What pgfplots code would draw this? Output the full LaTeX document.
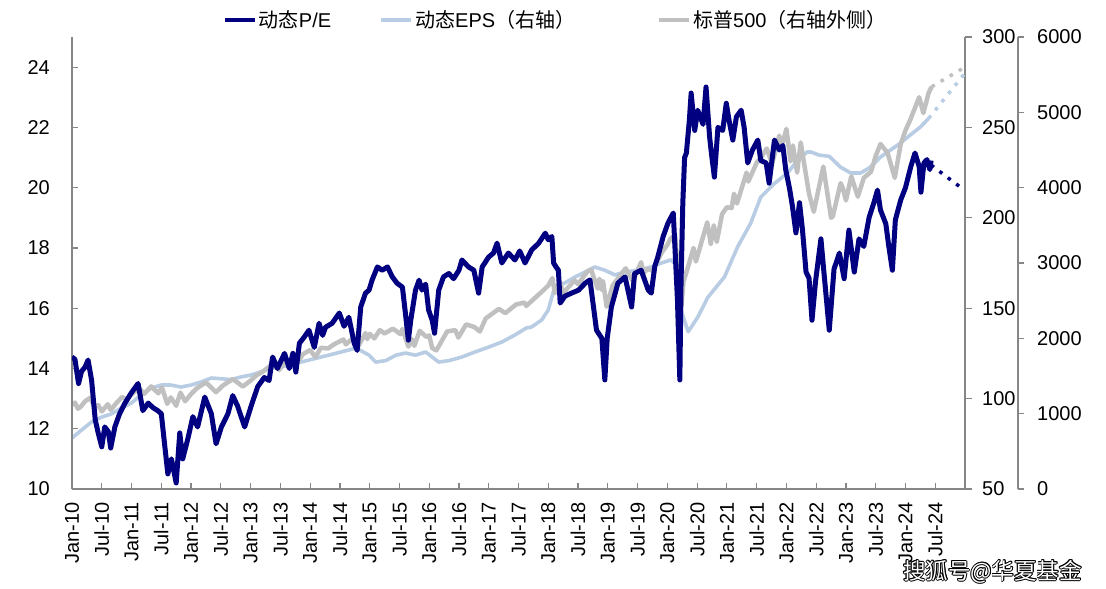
\documentclass[border=0pt]{standalone}
\usepackage{pgfplots}
\pgfplotsset{compat=1.18}
\usepackage{fontspec}
\setmainfont{Liberation Sans}
\newfontfamily\cjk{Noto Sans CJK SC}
\definecolor{pe}{RGB}{0,0,128}
\definecolor{eps}{RGB}{184,204,228}
\definecolor{spx}{RGB}{192,192,192}
\definecolor{axc}{RGB}{134,134,134}
\newcommand\tf{\fontsize{20bp}{24bp}\selectfont}
\pgfplotsset{
  base/.style={
    scale only axis, width=893bp, height=452bp,
    xmin=2010, xmax=2025,
    axis line style={axc, line width=1.2bp},
    tick style={axc, line width=1.2bp},
    major tick length=6bp,
    tick label style={font=\tf, black},
    /pgf/number format/assume math mode=true,
    /pgf/number format/1000 sep={},
    scaled y ticks=false,
    no markers,
  }
}
\begin{document}
\begin{tikzpicture}
\path[use as bounding box] (-72bp,-100bp) rectangle (1034bp,489bp);
% EPS axis (right)
\begin{axis}[base,
  ymin=50, ymax=300, ytick={50,100,150,200,250,300},
  axis x line=none, axis y line*=right, tick align=outside,
  major tick length=7bp,
  yticklabel style={anchor=west, inner xsep=10bp},
]
\addplot[eps, line width=3.6bp, line join=round] coordinates {
(2010.00,78.2)(2010.16,82.6)(2010.33,87.1)(2010.50,89.8)(2010.66,91.5)(2010.83,94.8)
(2011.00,97.6)(2011.16,102)(2011.33,105.8)(2011.50,107.5)(2011.66,107.5)(2011.83,106.4)
(2012.00,107.5)(2012.17,109.2)(2012.34,111.4)(2012.50,111)(2012.67,110.5)(2012.84,112)
(2013.00,113)(2013.17,114.7)(2013.34,116.9)(2013.55,117.8)(2013.78,119.7)(2013.98,121.3)
(2014.32,124.1)(2014.65,126.9)(2014.77,128)(2014.88,126)(2014.99,124)(2015.10,120.2)
(2015.27,121)(2015.44,124)(2015.60,125.2)(2015.77,124)(2015.94,125.8)(2016.05,123)
(2016.16,120.2)(2016.33,121)(2016.55,123)(2016.77,125.8)(2017.00,128.5)(2017.22,131.3)
(2017.44,135.2)(2017.63,139)(2017.72,139.6)(2017.89,143.5)(2018.00,149)(2018.06,156.2)
(2018.11,161.7)(2018.28,164)(2018.45,167.3)(2018.62,170)(2018.78,172.8)(2018.95,171)
(2019.12,168.4)(2019.28,170)(2019.51,171)(2019.73,172.8)(2019.90,175)(2020.06,176.7)
(2020.15,174)(2020.18,164)(2020.23,149)(2020.35,137)(2020.51,145)(2020.68,156)
(2020.96,167.3)(2021.18,183.9)(2021.40,197)(2021.57,211.5)(2021.80,219)(2022.02,224.8)
(2022.19,232)(2022.35,236.4)(2022.41,236.4)(2022.55,234.7)(2022.72,234)(2022.91,228)
(2023.08,224.8)(2023.25,224.8)(2023.41,228)(2023.58,233.6)(2023.75,237.5)(2023.92,241.4)
(2024.08,245.8)(2024.25,250.2)(2024.39,255)
};
\addplot[eps, line width=3.5bp, dash pattern=on 3.5bp off 7bp] coordinates {(2024.39,255)(2025.0,280)};
\end{axis}
% S&P 500 axis (outer right)
\begin{axis}[base,
  width=946bp, xmax=2025.8903,
  ymin=0, ymax=6000, ytick={0,1000,2000,3000,4000,5000,6000},
  axis x line=none, axis y line*=right, tick align=outside,
  yticklabel style={anchor=west, inner xsep=13bp},
  legend columns=3,
  legend style={at={(0.1596,1.0376)}, anchor=west, draw=none, fill=none,
    inner sep=0pt, outer sep=0pt, font=\tf,
    /tikz/every even column/.append style={column sep=0bp},
    nodes={inner xsep=2bp}},
  legend image code/.code={\draw[#1, line width=4bp] (0bp,0bp) -- (30bp,0bp);},
]
\addlegendimage{pe}
\addlegendentry{{\cjk 动态}P/E\makebox[46bp]{}}
\addlegendimage{eps}
\addlegendentry{{\cjk 动态}EPS{\cjk （右轴）}\makebox[80bp]{}}
\addplot[spx, line width=4.5bp, line join=round] coordinates {
(2010.00,1120)(2010.05,1146)(2010.10,1066)(2010.15,1094)(2010.22,1165)(2010.31,1212)(2010.38,1080)(2010.44,1115)(2010.50,1030)(2010.60,1125)(2010.65,1050)(2010.75,1145)(2010.84,1220)(2010.92,1190)
(2011.00,1258)(2011.13,1340)(2011.21,1262)(2011.33,1362)(2011.45,1270)(2011.51,1350)(2011.60,1130)(2011.66,1215)(2011.75,1105)(2011.82,1280)(2011.90,1165)
(2012.00,1260)(2012.10,1340)(2012.25,1415)(2012.42,1285)(2012.53,1370)(2012.70,1460)(2012.87,1360)
(2013.00,1440)(2013.10,1510)(2013.20,1555)(2013.38,1665)(2013.48,1580)(2013.59,1705)(2013.65,1635)(2013.72,1720)(2013.77,1660)(2013.88,1790)
(2014.00,1845)(2014.09,1750)(2014.18,1875)(2014.30,1865)(2014.40,1920)(2014.56,1985)(2014.60,1920)(2014.72,2005)(2014.79,1870)(2014.93,2070)(2014.96,1990)
(2015.00,2060)(2015.08,2000)(2015.17,2110)(2015.25,2065)(2015.39,2128)(2015.52,2055)(2015.55,2125)(2015.65,1890)(2015.71,1990)(2015.75,1900)(2015.84,2100)(2015.95,2020)
(2016.00,2040)(2016.05,1870)(2016.12,1840)(2016.30,2090)(2016.44,2110)(2016.49,2010)(2016.62,2185)(2016.76,2150)(2016.85,2090)(2016.95,2265)
(2017.17,2390)(2017.28,2335)(2017.46,2450)(2017.60,2475)(2017.63,2430)(2017.83,2575)(2017.92,2640)
(2018.00,2700)(2018.07,2800)(2018.11,2600)(2018.19,2760)(2018.25,2600)(2018.44,2770)(2018.50,2720)(2018.66,2890)(2018.72,2910)(2018.83,2660)(2018.86,2790)(2018.90,2640)(2018.92,2760)(2018.98,2420)
(2019.08,2700)(2019.30,2930)(2019.42,2760)(2019.56,3010)(2019.60,2860)(2019.66,2920)(2019.75,2900)(2019.91,3145)
(2020.00,3240)(2020.05,3320)(2020.13,3370)(2020.17,2980)(2020.22,2280)(2020.27,2750)(2020.33,2900)(2020.44,3200)(2020.48,3020)(2020.67,3540)(2020.73,3250)(2020.78,3500)(2020.83,3280)(2020.92,3650)
(2021.00,3740)(2021.08,3730)(2021.12,3920)(2021.17,3790)(2021.33,4200)(2021.36,4080)(2021.50,4330)(2021.58,4410)(2021.67,4520)(2021.76,4320)(2021.88,4690)(2021.92,4540)
(2022.00,4780)(2022.07,4350)(2022.11,4560)(2022.18,4200)(2022.24,4600)(2022.38,3920)(2022.46,3680)(2022.62,4280)(2022.75,3600)(2022.78,3620)(2022.91,4060)(2022.95,3990)
(2023.00,3830)(2023.09,4150)(2023.20,3880)(2023.30,4130)(2023.42,4210)(2023.50,4420)(2023.58,4580)(2023.70,4460)(2023.82,4130)(2023.92,4580)
(2024.00,4760)(2024.08,4900)(2024.23,5200)(2024.30,4990)(2024.39,5260)(2024.44,5340)
};
\addlegendentry{{\cjk 标普}500{\cjk （右轴外侧）}}
\addplot[spx, line width=3.5bp, dash pattern=on 3.5bp off 7bp, forget plot] coordinates {(2024.44,5340)(2025.0,5600)};
\end{axis}
% P/E axis (left)
\begin{axis}[base,
  ymin=10, ymax=25, ytick={10,12,14,16,18,20,22,24},
  axis lines*=left, tick align=inside,
  xtick={2010,2010.5,2011,2011.5,2012,2012.5,2013,2013.5,2014,2014.5,2015,2015.5,2016,2016.5,2017,2017.5,2018,2018.5,2019,2019.5,2020,2020.5,2021,2021.5,2022,2022.5,2023,2023.5,2024,2024.5},
  xticklabels={Jan-10,Jul-10,Jan-11,Jul-11,Jan-12,Jul-12,Jan-13,Jul-13,Jan-14,Jul-14,Jan-15,Jul-15,Jan-16,Jul-16,Jan-17,Jul-17,Jan-18,Jul-18,Jan-19,Jul-19,Jan-20,Jul-20,Jan-21,Jul-21,Jan-22,Jul-22,Jan-23,Jul-23,Jan-24,Jul-24},
  xticklabel style={rotate=90, anchor=east, inner xsep=13bp},
  yticklabel style={anchor=east, inner xsep=22bp},
]
\addplot[pe, line width=5bp, line join=round] coordinates {
(2010.00,14.38)(2010.05,14.3)(2010.11,13.5)(2010.16,13.9)(2010.22,14.05)(2010.27,14.28)(2010.33,13.6)(2010.39,12.3)(2010.44,11.86)(2010.50,11.4)(2010.55,12.06)(2010.61,11.9)(2010.65,11.36)(2010.72,12.06)(2010.80,12.5)(2010.89,12.85)
(2011.00,13.2)(2011.11,13.5)(2011.19,12.6)(2011.28,12.85)(2011.36,12.7)(2011.44,12.6)(2011.50,12.5)(2011.56,11.4)(2011.61,10.5)(2011.67,11.0)(2011.75,10.2)(2011.81,11.86)(2011.86,11.0)(2011.95,11.7)
(2012.03,12.4)(2012.11,12.06)(2012.23,13.05)(2012.34,12.5)(2012.42,11.5)(2012.51,12.06)(2012.62,12.5)(2012.70,13.1)(2012.78,12.76)(2012.90,12.06)
(2013.01,12.76)(2013.12,13.4)(2013.23,13.7)(2013.31,13.6)(2013.37,14.38)(2013.45,14.0)(2013.57,14.5)(2013.65,14.0)(2013.71,14.5)(2013.76,13.88)(2013.82,14.84)(2013.90,15.04)(2013.98,15.27)
(2014.07,14.7)(2014.15,15.5)(2014.21,15.1)(2014.26,15.37)(2014.37,15.5)(2014.49,15.84)(2014.57,15.4)(2014.65,15.7)(2014.74,14.84)(2014.79,14.6)(2014.85,16.04)(2014.93,16.5)(2014.99,16.6)
(2015.04,16.93)(2015.13,17.37)(2015.21,17.26)(2015.30,17.37)(2015.38,17.04)(2015.46,16.83)(2015.55,16.7)(2015.60,15.84)(2015.65,14.94)(2015.69,15.6)(2015.77,16.6)(2015.83,16.93)(2015.88,16.6)(2015.94,16.8)(2015.99,15.94)
(2016.05,15.6)(2016.09,15.17)(2016.16,16.6)(2016.24,17.04)(2016.33,17.15)(2016.41,16.98)(2016.50,17.26)(2016.55,17.6)(2016.66,17.37)(2016.75,17.26)(2016.83,16.5)(2016.89,17.37)
(2017.00,17.7)(2017.08,17.83)(2017.14,18.16)(2017.22,17.5)(2017.33,17.83)(2017.44,17.6)(2017.52,17.9)(2017.61,17.5)(2017.72,17.93)(2017.84,18.16)(2017.95,18.49)
(2018.00,18.27)(2018.06,18.38)(2018.09,17.5)(2018.12,17.4)(2018.17,17.26)(2018.20,16.17)(2018.28,16.4)(2018.39,16.5)(2018.51,16.6)(2018.62,16.83)(2018.70,16.94)(2018.76,16.04)(2018.81,15.27)(2018.90,15.0)(2018.95,13.62)(2018.99,15.0)
(2019.06,16.04)(2019.17,16.83)(2019.29,17.04)(2019.40,16.04)(2019.45,17.15)(2019.56,17.26)(2019.68,16.6)(2019.73,16.5)(2019.79,17.4)(2019.84,17.7)(2019.93,18.38)
(2020.01,18.82)(2020.10,19.16)(2020.13,17.93)(2020.17,16.27)(2020.21,13.62)(2020.23,16.83)(2020.26,19.49)(2020.29,21.0)(2020.32,21.15)(2020.37,22.24)(2020.40,23.14)(2020.46,21.9)(2020.51,22.57)(2020.60,22.1)(2020.65,23.34)(2020.71,21.68)(2020.74,21.15)(2020.79,20.35)(2020.85,22.0)(2020.93,21.9)(2020.99,22.8)
(2021.04,22.2)(2021.10,21.58)(2021.16,22.35)(2021.24,22.57)(2021.29,22.0)(2021.35,20.82)(2021.43,21.25)(2021.52,21.58)(2021.57,20.9)(2021.66,20.82)(2021.71,20.15)(2021.80,21.58)(2021.88,21.25)(2021.94,21.4)(2021.99,20.58)
(2022.05,20.0)(2022.10,19.4)(2022.16,18.5)(2022.22,19.5)(2022.27,18.6)(2022.33,17.2)(2022.38,17.0)(2022.43,15.6)(2022.49,16.9)(2022.58,18.3)(2022.63,17.2)(2022.72,15.27)(2022.80,17.3)(2022.89,17.83)(2022.97,16.98)
(2023.05,18.59)(2023.14,17.2)(2023.22,18.3)(2023.30,18.05)(2023.39,19.02)(2023.47,19.5)(2023.53,19.92)(2023.58,19.26)(2023.67,18.8)(2023.72,18.05)(2023.78,17.26)(2023.83,18.93)(2023.92,19.59)
(2024.00,20.0)(2024.09,20.7)(2024.16,21.15)(2024.23,20.7)(2024.26,19.85)(2024.31,20.82)(2024.36,20.93)(2024.41,20.6)(2024.43,20.9)
};
\addplot[pe, line width=3.5bp, dash pattern=on 3.5bp off 7bp] coordinates {(2024.43,20.75)(2024.90,20.05)};
\end{axis}
% watermark
\foreach \dx/\dy in {0.9/0,-0.9/0,0/0.9,0/-0.9,0.7/0.7,-0.7/0.7,0.7/-0.7,-0.7/-0.7}{
  \node[anchor=west, inner sep=0pt, text=black, font=\fontsize{22.5bp}{26bp}\selectfont\cjk] at (831bp+\dx bp,-82.5bp+\dy bp) {搜狐号@华夏基金};
}
\node[anchor=west, inner sep=0pt, text=white, font=\fontsize{22.5bp}{26bp}\selectfont\cjk] at (831bp,-82.5bp) {搜狐号@华夏基金};
\end{tikzpicture}
\end{document}
